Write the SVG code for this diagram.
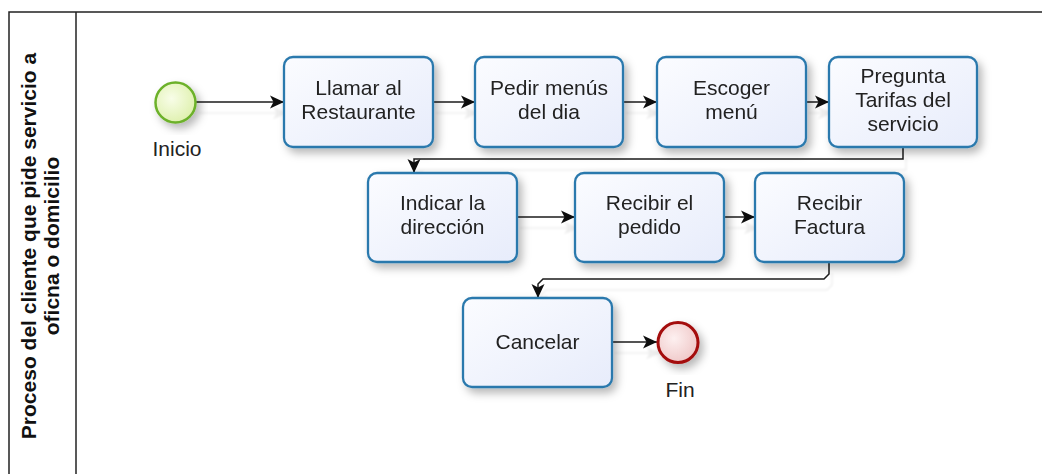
<svg xmlns="http://www.w3.org/2000/svg" width="1042" height="474" viewBox="0 0 1042 474">
  <style>
    .task rect { fill: url(#taskFill); stroke: #2b79ad; stroke-width: 2.3; }
    .task { filter: url(#shadow); }
    .lbl { font-family: "Liberation Sans", Arial, sans-serif; font-size: 21px; fill: #222; text-anchor: middle; }
    .lane { font-family: "Liberation Sans", Arial, sans-serif; font-size: 21px; font-weight: bold; fill: #111; text-anchor: middle; }
    .conn path { fill: none; stroke: #1a1a1a; stroke-width: 1.5; }
    .conn path.arrow { marker-end: url(#arrow); }
    .pool { fill: none; stroke: #222; stroke-width: 1.5; }
  </style>
  <defs>
    <linearGradient id="taskFill" x1="0" y1="0" x2="1" y2="1">
      <stop offset="0" stop-color="#fbfcff"/>
      <stop offset="1" stop-color="#e7ecfb"/>
    </linearGradient>
    <radialGradient id="startFill" cx="0.4" cy="0.4" r="0.7">
      <stop offset="0" stop-color="#f8fde8"/>
      <stop offset="1" stop-color="#dcefa8"/>
    </radialGradient>
    <radialGradient id="endFill" cx="0.4" cy="0.4" r="0.7">
      <stop offset="0" stop-color="#fdf0f0"/>
      <stop offset="1" stop-color="#eec4c4"/>
    </radialGradient>
    <filter id="shadow" x="-20%" y="-20%" width="150%" height="150%">
      <feDropShadow dx="4" dy="5" stdDeviation="4" flood-color="#000" flood-opacity="0.28"/>
    </filter>
    <filter id="lineShadow" x="-10%" y="-10%" width="130%" height="160%">
      <feOffset in="SourceAlpha" dx="3" dy="11" result="o"/>
      <feGaussianBlur in="o" stdDeviation="1" result="b"/>
      <feComponentTransfer in="b" result="c"><feFuncA type="linear" slope="0.07"/></feComponentTransfer>
      <feMerge><feMergeNode in="c"/><feMergeNode in="SourceGraphic"/></feMerge>
    </filter>
    <marker id="arrow" markerUnits="userSpaceOnUse" markerWidth="15" markerHeight="14" refX="14" refY="7" orient="auto">
      <path d="M0,0.5 L14,7 L0,13.5 L3.5,7 z" fill="#111"/>
    </marker>
  </defs>

  <g id="pool">
    <path class="pool" d="M1042,12 H9 V474"/>
    <path class="pool" d="M76,12 V474"/>
    <text class="lane" transform="translate(36,246) rotate(-90)">Proceso del cliente que pide servicio a</text>
    <text class="lane" transform="translate(59,246) rotate(-90)">oficna o domicilio</text>
  </g>

  <g id="connectors" class="conn" filter="url(#lineShadow)">
    <path class="arrow" d="M196,102 H284"/>
    <path class="arrow" d="M433,102 H475"/>
    <path class="arrow" d="M623,102 H657"/>
    <path class="arrow" d="M806,102 H829"/>
    <path class="arrow" d="M903,147 V159 H414 V173"/>
    <path class="arrow" d="M517,217 H575"/>
    <path class="arrow" d="M724,217 H755"/>
    <path class="arrow" d="M829,262 V274 L824,279 H543 L538,284 V298"/>
    <path class="arrow" d="M612,342 H657"/>
  </g>

  <g id="start" filter="url(#shadow)">
    <circle cx="175.5" cy="102.5" r="20" fill="url(#startFill)" stroke="#6cb12a" stroke-width="2.5"/>
  </g>
  <text id="start-label" class="lbl" x="177" y="156">Inicio</text>

  <g id="llamar" class="task">
    <rect x="284" y="57" width="149" height="90" rx="9"/>
    <text class="lbl" x="358.5" y="95">Llamar al</text>
    <text class="lbl" x="358.5" y="119">Restaurante</text>
  </g>
  <g id="pedir" class="task">
    <rect x="475" y="57" width="148" height="90" rx="9"/>
    <text class="lbl" x="549" y="95">Pedir menús</text>
    <text class="lbl" x="549" y="119">del dia</text>
  </g>
  <g id="escoger" class="task">
    <rect x="657" y="57" width="149" height="90" rx="9"/>
    <text class="lbl" x="731.5" y="95">Escoger</text>
    <text class="lbl" x="731.5" y="119">menú</text>
  </g>
  <g id="pregunta" class="task">
    <rect x="829" y="57" width="148" height="90" rx="9"/>
    <text class="lbl" x="903" y="83">Pregunta</text>
    <text class="lbl" x="903" y="107">Tarifas del</text>
    <text class="lbl" x="903" y="131">servicio</text>
  </g>
  <g id="indicar" class="task">
    <rect x="368" y="173" width="149" height="89" rx="9"/>
    <text class="lbl" x="442.5" y="210">Indicar la</text>
    <text class="lbl" x="442.5" y="234">dirección</text>
  </g>
  <g id="recibir-pedido" class="task">
    <rect x="575" y="173" width="149" height="89" rx="9"/>
    <text class="lbl" x="649.5" y="210">Recibir el</text>
    <text class="lbl" x="649.5" y="234">pedido</text>
  </g>
  <g id="recibir-factura" class="task">
    <rect x="755" y="173" width="149" height="89" rx="9"/>
    <text class="lbl" x="829.5" y="210">Recibir</text>
    <text class="lbl" x="829.5" y="234">Factura</text>
  </g>
  <g id="cancelar" class="task">
    <rect x="463" y="298" width="149" height="89" rx="9"/>
    <text class="lbl" x="537.5" y="349">Cancelar</text>
  </g>

  <g id="end" filter="url(#shadow)">
    <circle cx="678" cy="342.5" r="20" fill="url(#endFill)" stroke="#a40d0d" stroke-width="3"/>
  </g>
  <text id="end-label" class="lbl" x="680" y="397">Fin</text>
</svg>
